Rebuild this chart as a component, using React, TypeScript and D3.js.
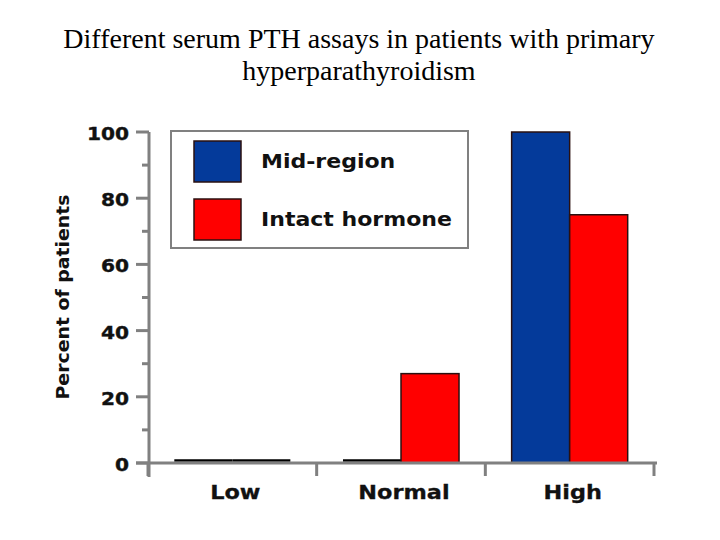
import React from "react";
import * as d3 from "d3";

const categories = ["Low", "Normal", "High"];
const seriesNames = ["Mid-region", "Intact hormone"];
const midRegion = [0, 0, 100];
const intactHormone = [0, 27, 75];
const yTicks = [0, 20, 40, 60, 80, 100];
const colors = ["#043a9a", "#ff0000"];

export default function App() {
  const W = 720, H = 540;
  const x0 = 149, xStart = 148, xEnd = 654, yTop = 132, yBot = 463;
  const x = d3.scaleBand<string>().domain(categories).range([xStart, xEnd]).paddingInner(0.312).paddingOuter(0.156);
  const xs = d3.scaleBand<string>().domain(seriesNames).range([0, x.bandwidth()]);
  const y = d3.scaleLinear().domain([0, 100]).range([yBot, yTop]);
  const minor = d3.range(10, 100, 20);
  const series = [midRegion, intactHormone];
  const step = (xEnd - xStart) / categories.length;
  const catTicks = d3.range(categories.length + 1).map((i) => xStart + i * step);
  const sans = "'DejaVu Sans', Verdana, sans-serif";
  const serif = "'Liberation Serif', 'Times New Roman', serif";
  return (
    <svg width={W} height={H} style={{ position: "absolute", left: 0, top: 0, background: "#fff" }}>
      <text x={359} y={48} textAnchor="middle" fontFamily={serif} fontSize={28}>
        Different serum PTH assays in patients with primary
      </text>
      <text x={359} y={80} textAnchor="middle" fontFamily={serif} fontSize={28}>
        hyperparathyroidism
      </text>
      {/* bars */}
      {categories.map((c, ci) =>
        series.map((s, si) => {
          const v = s[ci];
          const bx = (x(c) as number) + (xs(seriesNames[si]) as number);
          if (v === 0) {
            return <line key={c + si} x1={bx} x2={bx + xs.bandwidth()} y1={y(0) - 2.5} y2={y(0) - 2.5} stroke="#000" strokeWidth={2.5} />;
          }
          return (
            <rect key={c + si} x={bx} y={y(v)} width={xs.bandwidth()} height={y(0) - y(v)} fill={colors[si]} stroke="#2a1010" strokeWidth={1.5} />
          );
        })
      )}
      {/* y axis */}
      <line x1={x0} x2={x0} y1={yTop} y2={477} stroke="#808080" strokeWidth={3} />
      {yTicks.map((t) => (
        <g key={t}>
          <line x1={136} x2={x0} y1={y(t)} y2={y(t)} stroke="#808080" strokeWidth={3} />
          <text transform={`translate(129,${y(t) + 8}) scale(1.12,1)`} textAnchor="end" fontFamily={sans} fontWeight="bold" fontSize={18} fill="#111" stroke="#111" strokeWidth={0.4}>
            {t}
          </text>
        </g>
      ))}
      {minor.map((t) => (
        <line key={t} x1={142} x2={x0} y1={y(t)} y2={y(t)} stroke="#808080" strokeWidth={3} />
      ))}
      {/* x axis */}
      <line x1={136} x2={657} y1={yBot} y2={yBot} stroke="#808080" strokeWidth={3} />
      {catTicks.map((t, i) => (
        <line key={i} x1={t} x2={t} y1={yBot} y2={476} stroke="#808080" strokeWidth={3} />
      ))}
      {categories.map((c) => (
        <text key={c} transform={`translate(${(x(c) as number) + x.bandwidth() / 2 + 3},499) scale(1.12,1)`} textAnchor="middle" fontFamily={sans} fontWeight="bold" fontSize={20} fill="#111" stroke="#111" strokeWidth={0.3}>
          {c}
        </text>
      ))}
      <text transform="translate(69,297) rotate(-90) scale(1.05,1)" textAnchor="middle" fontFamily={sans} fontWeight="bold" fontSize={18} fill="#111">
        Percent of patients
      </text>
      {/* legend */}
      <rect x={171} y={131} width={297} height={117} fill="#fff" stroke="#808080" strokeWidth={2} />
      {seriesNames.map((n, i) => (
        <g key={n}>
          <rect x={194} y={141 + i * 58} width={47} height={41} fill={colors[i]} stroke="#2a1010" strokeWidth={1.5} />
          <text transform={`translate(261,${168 + i * 58}) scale(1.16,1)`} fontFamily={sans} fontWeight="bold" fontSize={19} fill="#111">
            {n}
          </text>
        </g>
      ))}
    </svg>
  );
}
